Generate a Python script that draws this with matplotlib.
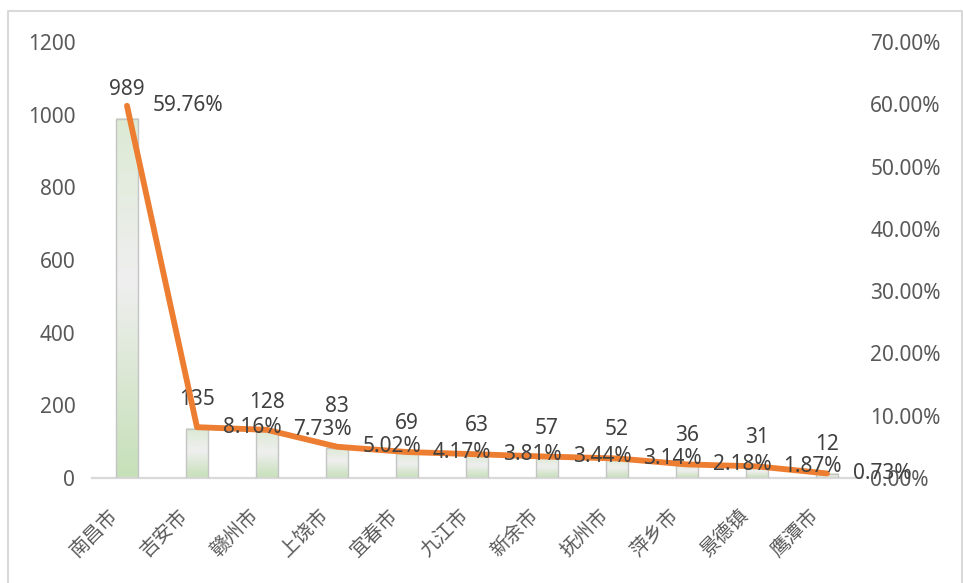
import matplotlib
matplotlib.use("Agg")
import matplotlib.pyplot as plt
import matplotlib.transforms as mtransforms
import numpy as np
from matplotlib.colors import LinearSegmentedColormap
from matplotlib.lines import Line2D

plt.rcParams['font.family'] = ['Noto Sans', 'Noto Sans CJK SC', 'DejaVu Sans']

cities = ['南昌市', '吉安市', '赣州市', '上饶市', '宜春市', '九江市',
          '新余市', '抚州市', '萍乡市', '景德镇', '鹰潭市']
counts = [989, 135, 128, 83, 69, 63, 57, 52, 36, 31, 12]
shares = [59.76, 8.16, 7.73, 5.02, 4.17, 3.81, 3.44, 3.14, 2.18, 1.87, 0.73]
left_ticks = [0, 200, 400, 600, 800, 1000, 1200]
right_ticks = [0, 10, 20, 30, 40, 50, 60, 70]

W, H = 963, 583
fig = plt.figure(figsize=(W / 100, H / 100), dpi=100)
ax = fig.add_axes([92 / W, 1 - 478 / H, (862 - 92) / W, (478 - 42) / H])
ax2 = ax.twinx()

x = np.arange(len(cities))
bw = 0.32

# gradient bars
cmap = LinearSegmentedColormap.from_list(
    'g', [(0.0, '#c6e0b8'), (0.55, '#efefef'), (1.0, '#dcead4')])
grad = np.linspace(0, 1, 256).reshape(-1, 1)
bars = ax.bar(x, counts, width=bw, facecolor='none', edgecolor='#c4c4c4',
              linewidth=1.0, zorder=3)
for b in bars:
    x0, y0 = b.get_x(), b.get_y()
    w, h = b.get_width(), b.get_height()
    ax.imshow(grad, extent=[x0, x0 + w, y0, y0 + h], origin='lower',
              cmap=cmap, aspect='auto', zorder=2, interpolation='bilinear')
ax.set_xlim(-0.5, len(cities) - 0.5)
ax.set_ylim(0, 1200)
ax2.set_ylim(0, 70)

# count labels (Excel nudged the "83" label up to avoid the line label)
count_offsets = {3: 30}
for i, (xi, v) in enumerate(zip(x, counts)):
    ax.annotate(str(v), (xi, v), xytext=(0, count_offsets.get(i, 21)),
                textcoords='offset points', ha='center', va='center',
                fontsize=15, color='#404040', annotation_clip=False, zorder=6)

# line
ax2.plot(x, shares, color='#ED7D31', linewidth=4.2, solid_capstyle='round',
         solid_joinstyle='round', zorder=4)
for xi, p in zip(x, shares):
    ax2.annotate(f'{p:.2f}%', (xi, p), xytext=(18.5, 0), textcoords='offset points',
                 ha='left', va='center', fontsize=15, color='#404040',
                 annotation_clip=False, zorder=6)

# axes styling
for a in (ax, ax2):
    for s in a.spines.values():
        s.set_visible(False)
ax.spines['bottom'].set_visible(True)
ax.spines['bottom'].set_color('#d9d9d9')
ax.spines['bottom'].set_linewidth(1.6)

ax.set_yticks(left_ticks)
ax.set_yticklabels([str(t) for t in left_ticks])
ax.tick_params(axis='y', length=0, pad=12, labelsize=15, labelcolor='#595959')
ax2.set_yticks(right_ticks)
ax2.set_yticklabels([f'{t:.2f}%' for t in right_ticks])
ax2.tick_params(axis='y', length=0, pad=6, labelsize=15, labelcolor='#595959')

ax.set_xticks(x)
ax.set_xticklabels(cities, rotation=45, ha='right', va='center',
                   rotation_mode='anchor', fontsize=14, color='#595959',
                   family=['Noto Sans CJK SC', 'DejaVu Sans'])
ax.tick_params(axis='x', length=0, pad=0)
shift = mtransforms.ScaledTranslation(-12 / 100, -34 / 100, fig.dpi_scale_trans)
for lbl in ax.get_xticklabels():
    lbl.set_transform(lbl.get_transform() + shift)

# chart border
bc = '#d9d9d9'
fig.add_artist(Line2D([8 / W, 8 / W, 962 / W, 962 / W],
                      [0, 1 - 11 / H, 1 - 11 / H, 0],
                      transform=fig.transFigure, color=bc, linewidth=1.5))

fig.savefig('out.png', dpi=100)
